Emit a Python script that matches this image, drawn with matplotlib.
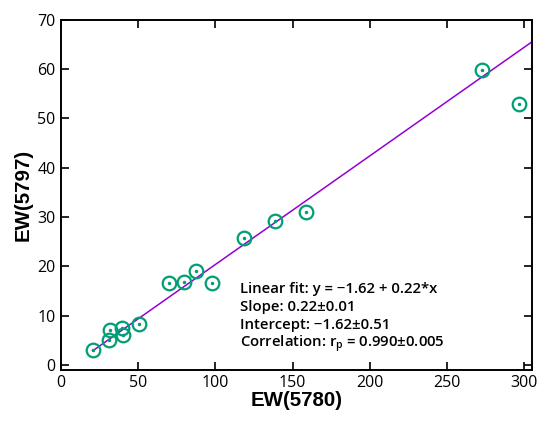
import numpy as np
import matplotlib
matplotlib.use('Agg')
import matplotlib.pyplot as plt
from matplotlib.ticker import MultipleLocator

# EW(5780) vs EW(5797)
ew5780 = [20.5, 31.3, 31.7, 39.7, 40.3, 50.6, 69.9, 79.8, 87.3, 97.5,
          118.8, 138.4, 158.5, 272.5, 296.5]
ew5797 = [3.0, 5.1, 7.1, 7.6, 6.1, 8.3, 16.7, 16.9, 19.1, 16.6,
          25.7, 29.1, 31.1, 59.8, 52.9]
fit_a = -1.62
fit_b = 0.22
fit_text = ['Linear fit: y = \u22121.62 + 0.22*x',
            'Slope: 0.22\u00b10.01',
            'Intercept: \u22121.62\u00b10.51',
            'Correlation: r$_\\mathregular{p}$ = 0.990\u00b10.005']

plt.rcParams['font.family'] = ['Open Sans', 'DejaVu Sans']

fig = plt.figure(figsize=(5.5, 4.26), dpi=100)
ax = fig.add_axes([0.111, 0.1326, 0.856, 0.8214])

xf = np.array([min(ew5780), 305])
ax.plot(xf, fit_a + fit_b*xf, color='#9400d3', lw=1.1, zorder=2)
ax.plot(ew5780, ew5797, 'o', ms=9.8, mfc='none', mec='#009e73', mew=1.6, zorder=3)
ax.plot(ew5780, ew5797, '.', ms=3, color='#009e73', zorder=3)

ax.set_xlim(0, 305)
ax.set_ylim(-0.9, 70)
ax.xaxis.set_major_locator(MultipleLocator(50))
ax.yaxis.set_major_locator(MultipleLocator(10))
ax.tick_params(direction='in', length=6, width=1.2, top=True, right=True,
               labelsize=11.5, pad=4)
for lab in ax.get_xticklabels() + ax.get_yticklabels():
    lab.set_fontweight('medium')
for s in ax.spines.values():
    s.set_linewidth(1.4)

ax.set_xlabel('EW(5780)', fontsize=14.8, fontweight='bold',
              family=['Liberation Sans'], labelpad=0)
ax.set_ylabel('EW(5797)', fontsize=14.8, fontweight='bold',
              family=['Liberation Sans'], labelpad=3)

for i, t in enumerate(fit_text):
    ax.text(0.38, 0.219 - i*0.0514, t, transform=ax.transAxes, fontsize=10.7,
            fontweight='semibold', va='baseline', ha='left')

fig.savefig('out.png')
